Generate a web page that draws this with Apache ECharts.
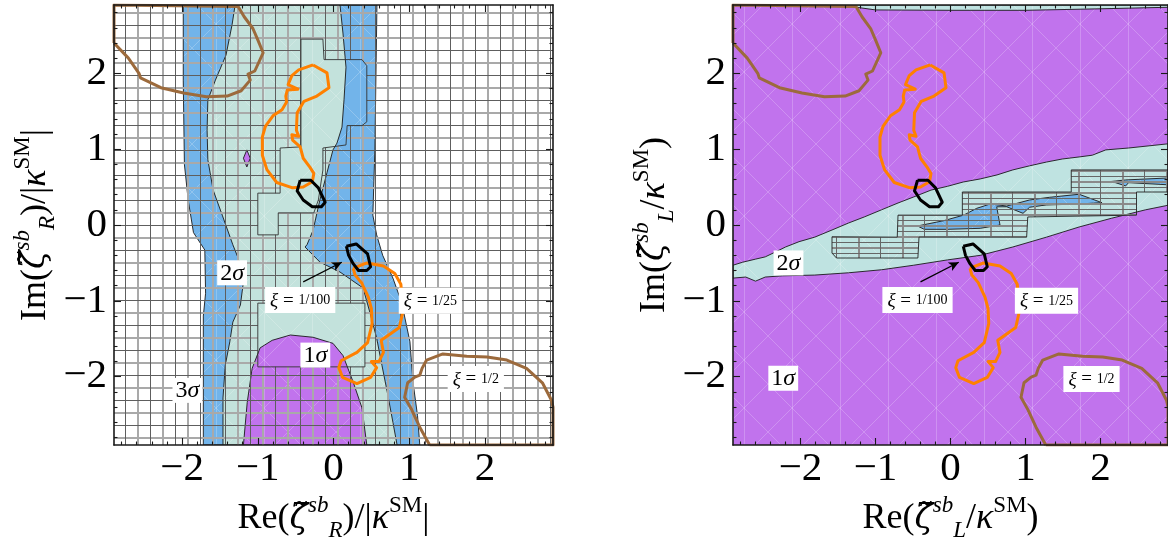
<!DOCTYPE html>
<html>
<head>
<meta charset="utf-8">
<script src="https://cdn.jsdelivr.net/npm/echarts@6/dist/echarts.min.js"></script>
<style>
html, body { margin: 0; background: #fff; }
#main { width: 1168px; height: 552px; }
</style>
</head>
<body>
<div id="main"></div>
<script>
var FONT = '"Liberation Serif", "DejaVu Serif", serif';

// axes
var axisMin = -2.9, axisMax = 2.9;
var tickValues = [-2, -1, 0, 1, 2];

// ---- left panel (zeta_R): confidence regions ----
var r3sigLeft = [[-1.985, 2.9], [-1.985, 1.9], [-1.97, 0.8], [-1.92, 0.33], [-1.85, -0.1], [-1.70, -0.33], [-1.69, -0.9], [-1.72, -1.2], [-1.72, -2.9]];
var r3sigRight = [[1.14, -2.9], [1.11, -2.51], [1.05, -2.07], [1.01, -1.54], [0.90, -1.02], [0.785, -0.70], [0.65, -0.40], [0.57, -0.13], [0.52, 0.13], [0.547, 1.0], [0.574, 2.9]];
var r2sigLeft = [[-1.30, 2.9], [-1.34, 2.64], [-1.42, 2.24], [-1.56, 1.91], [-1.66, 1.65], [-1.67, 1.25], [-1.66, 0.86], [-1.59, 0.46], [-1.47, 0.13], [-1.33, -0.26], [-1.26, -0.435], [-1.19, -0.75], [-1.23, -1.055], [-1.33, -1.28], [-1.37, -1.54], [-1.43, -1.85], [-1.46, -2.28], [-1.46, -2.9]];
var r2sigRight = [[0.84, -2.9], [0.785, -2.6], [0.71, -2.2], [0.64, -1.85], [0.57, -1.49], [0.48, -1.15], [0.39, -0.83], [0.086, -0.62], [-0.178, -0.49], [-0.376, -0.29], [-0.35, -0.26], [-0.27, -0.07], [-0.18, 0.33], [-0.086, 0.69], [-0.007, 0.99], [0.046, 1.08], [0.112, 1.29], [0.139, 1.65], [0.165, 2.08], [0.125, 2.53], [0.086, 2.9]];
var r1sig = [[-1.19, -2.9], [-1.14, -2.34], [-1.075, -1.89], [-0.97, -1.62], [-0.81, -1.52], [-0.57, -1.45], [-0.27, -1.48], [-0.007, -1.56], [0.125, -1.72], [0.26, -2.07], [0.376, -2.41], [0.44, -2.9]];
var r1sigSpeck = [[-1.145, 0.99], [-1.10, 0.88], [-1.145, 0.765], [-1.19, 0.88]];
// cells without the mesh hatching
var rPlainA = [[-0.43, 2.45], [-0.14, 2.45], [-0.125, 2.18], [0.376, 2.18], [0.44, 2.10], [0.44, 1.36], [0.376, 1.31], [0.18, 1.31], [0.165, 1.055], [-0.14, 1.015], [-0.14, 0.725], [-0.20, 0.33], [-0.26, 0.16], [-0.73, 0.16], [-0.73, -0.13], [-1.0, -0.13], [-1.0, 0.42], [-0.705, 0.42], [-0.705, 1.015], [-0.43, 1.03]];
var rPlainB = [[-1.0, -1.03], [0.415, -1.03], [0.415, -1.87], [-1.0, -1.87]];

// ---- right panel (zeta_L) ----
var lBand2Upper = [[-2.9, -0.53], [-2.77, -0.49], [-2.6, -0.45], [-2.47, -0.42], [-2.335, -0.356], [-2.2, -0.29], [-2.02, -0.22], [-1.81, -0.16], [-1.58, -0.066], [-1.36, 0.026], [-1.15, 0.106], [-0.92, 0.2], [-0.70, 0.29], [-0.49, 0.37], [-0.26, 0.46], [-0.04, 0.51], [0.17, 0.567], [0.396, 0.607], [0.62, 0.66], [0.83, 0.726], [1.055, 0.78], [1.28, 0.83], [1.49, 0.87], [1.715, 0.897], [1.89, 0.92], [2.07, 0.99], [2.375, 1.015], [2.9, 1.07]];
var lBand2Lower = [[2.9, 0.26], [2.6, 0.2], [2.15, 0.09], [1.715, -0.026], [1.28, -0.16], [0.83, -0.29], [0.396, -0.40], [-0.04, -0.46], [-0.49, -0.53], [-0.92, -0.59], [-1.36, -0.63], [-1.81, -0.66], [-2.24, -0.67], [-2.47, -0.686], [-2.6, -0.74], [-2.73, -0.686], [-2.9, -0.70]];
var lTopStrip = [[-1.27, 2.9], [2.9, 2.9], [2.9, 2.87], [2.0, 2.85], [1.0, 2.83], [0, 2.83], [-1.0, 2.835], [-1.25, 2.87]];
var lBlueA = [[-0.44, -0.013], [-0.09, 0.057], [0.175, 0.13], [0.35, 0.22], [0.53, 0.277], [0.75, 0.25], [1.055, 0.33], [1.32, 0.365], [1.715, 0.405], [2.02, 0.294], [1.715, 0.277], [1.275, 0.264], [1.055, 0.234], [0.967, 0.154], [0.75, 0.24], [0.616, 0.24], [0.66, 0.0], [0.396, -0.044], [-0.044, -0.057], [-0.35, -0.057]];
var lBlueB = [[2.11, 0.57], [2.335, 0.594], [2.9, 0.62], [2.9, 0.53], [2.375, 0.558], [2.335, 0.515], [2.2, 0.558]];
var lMeshed = [[-1.58, -0.155], [-1.58, -0.37], [-1.52, -0.435], [-0.435, -0.435], [-0.42, -0.16], [1.015, -0.16], [1.03, 0.106], [2.48, 0.13], [2.48, 0.435], [2.9, 0.435], [2.9, 0.726], [1.61, 0.726], [1.61, 0.435], [0.158, 0.435], [0.158, 0.13], [-0.70, 0.13], [-0.71, -0.16]];

// ---- xi contours (same in both panels) ----
var xi25A = [[-0.27, 2.11], [-0.086, 2.005], [-0.06, 1.81], [-0.22, 1.70], [-0.39, 1.63], [-0.48, 1.48], [-0.49, 1.25], [-0.46, 1.17], [-0.55, 1.19], [-0.54, 1.12], [-0.44, 1.03], [-0.40, 0.88], [-0.31, 0.76], [-0.26, 0.68], [-0.28, 0.57], [-0.40, 0.50], [-0.54, 0.49], [-0.75, 0.56], [-0.88, 0.73], [-0.94, 0.92], [-0.94, 1.16], [-0.90, 1.30], [-0.80, 1.44], [-0.68, 1.52], [-0.62, 1.62], [-0.63, 1.70], [-0.61, 1.78], [-0.47, 1.79], [-0.60, 1.85], [-0.55, 1.97], [-0.46, 2.045], [-0.27, 2.11]];
var xi25B = [[0.26, -0.57], [0.44, -0.50], [0.66, -0.54], [0.81, -0.64], [0.89, -0.78], [0.92, -1.13], [0.87, -1.35], [0.73, -1.45], [0.63, -1.52], [0.66, -1.68], [0.60, -1.80], [0.50, -1.80], [0.57, -1.88], [0.49, -2.01], [0.31, -2.09], [0.12, -2.01], [0.07, -1.88], [0.10, -1.79], [0.31, -1.68], [0.45, -1.55], [0.51, -1.30], [0.50, -1.10], [0.46, -0.95], [0.37, -0.76], [0.285, -0.66], [0.26, -0.57]];
var xi100A = [[-0.44, 0.59], [-0.30, 0.59], [-0.20, 0.49], [-0.11, 0.30], [-0.16, 0.24], [-0.28, 0.24], [-0.40, 0.33], [-0.48, 0.45], [-0.44, 0.59]];
var xi100B = [[0.17, -0.28], [0.30, -0.25], [0.45, -0.38], [0.49, -0.55], [0.44, -0.60], [0.33, -0.60], [0.26, -0.51], [0.20, -0.40], [0.17, -0.28]];
var xi2A = [[-2.9, 2.40], [-2.71, 2.2], [-2.57, 2.0], [-2.55, 1.94], [-2.28, 1.81], [-1.98, 1.74], [-1.68, 1.69], [-1.405, 1.70], [-1.22, 1.77], [-1.10, 1.91], [-1.13, 1.99], [-1.04, 2.03], [-0.93, 2.27], [-1.0, 2.44], [-1.065, 2.59], [-1.18, 2.745], [-1.26, 2.88], [-1.27, 2.9], [-2.9, 2.9], [-2.9, 2.4]];
var xi2B = [[1.27, -2.9], [1.27, -2.876], [1.14, -2.665], [1.035, -2.44], [0.94, -2.27], [0.98, -2.08], [1.075, -2.005], [1.14, -1.98], [1.17, -1.89], [1.23, -1.78], [1.445, -1.70], [1.76, -1.73], [2.03, -1.74], [2.29, -1.78], [2.55, -1.89], [2.76, -2.08], [2.88, -2.31], [2.9, -2.40], [2.9, -2.9], [1.27, -2.9]];

// ---- labels ----
var sigmaLabelsR = [[-1.93, -2.18, '3'], [-1.34, -0.63, '2'], [-0.24, -1.715, '1']];
var sigmaLabelsL = [[-2.16, -0.50, '2'], [-2.23, -2.02, '1']];
var xiLabels = [[-0.44, -0.99, '1/100'], [1.28, -1.0, '1/25'], [1.88, -2.03, '1/2']];
var arrowFrom = [-0.40, -0.75], arrowTo = [0.11, -0.49];

// ---------- helpers ----------
function texture(color) {
	var c = document.createElement('canvas');
	c.width = 48; c.height = 48;
	var g = c.getContext('2d');
	g.fillStyle = color;
	g.fillRect(0, 0, 48, 48);
	g.strokeStyle = 'rgba(255,255,255,0.22)';
	g.lineWidth = 1;
	g.beginPath();
	g.moveTo(0, 0); g.lineTo(48, 48);
	g.moveTo(48, 0); g.lineTo(0, 48);
	g.moveTo(24.5, 0); g.lineTo(24.5, 48);
	g.stroke();
	return { image: c, repeat: 'repeat' };
}

function meshPattern(w, h, lx, ly, dark, light) {
	var c = document.createElement('canvas');
	c.width = w; c.height = h;
	var g = c.getContext('2d');
	g.fillStyle = light;
	g.fillRect(lx, 0, 2, h);
	g.fillRect(0, ly, w, 2);
	g.fillStyle = dark;
	g.fillRect(0, 0, 1, h);
	g.fillRect(0, 0, w, 1);
	return { image: c, repeat: 'repeat' };
}

function signedArea(p) {
	var a = 0;
	for (var i = 0; i < p.length; i++) {
		var q = p[(i + 1) % p.length];
		a += p[i][0] * q[1] - q[0] * p[i][1];
	}
	return a / 2;
}

// outer rectangle with holes cut out through zero-width bridges
function keyhole(outer, holes) {
	var pts = outer.concat([outer[0]]);
	holes.forEach(function (h) {
		var hh = signedArea(h) < 0 ? h.slice().reverse() : h;
		pts = pts.concat(hh, [hh[0], outer[0]]);
	});
	return pts;
}

function polygon(gi, pts, style, z) {
	return {
		type: 'custom',
		xAxisIndex: gi * 4,
		yAxisIndex: gi * 4,
		data: pts,
		silent: true,
		clip: true,
		z: z,
		renderItem: function (params, api) {
			if (params.dataIndex !== 0) return;
			return {
				type: 'polygon',
				shape: { points: pts.map(function (p) { return api.coord(p); }) },
				style: style
			};
		}
	};
}

function curve(gi, pts, color, w) {
	return {
		type: 'line',
		xAxisIndex: gi * 4,
		yAxisIndex: gi * 4,
		data: pts,
		showSymbol: false,
		symbol: 'none',
		silent: true,
		clip: true,
		z: 5,
		lineStyle: { color: color, width: w, join: 'round' }
	};
}

function labelSeries(gi, items, fmt, rich, pad) {
	return {
		type: 'scatter',
		xAxisIndex: gi * 4,
		yAxisIndex: gi * 4,
		data: items,
		symbolSize: 1,
		itemStyle: { color: '#fff', opacity: 1 },
		silent: true,
		z: 6,
		label: {
			show: true,
			position: 'inside',
			opacity: 1,
			backgroundColor: '#ffffff',
			padding: pad,
			formatter: fmt,
			rich: rich
		}
	};
}

function sigmaSeries(gi, items) {
	return labelSeries(gi, items, function (p) { return '{n|' + p.data[2] + '}{s|σ}'; }, {
		n: { fontSize: 24, fontFamily: FONT, color: '#000' },
		s: { fontSize: 24, fontFamily: FONT, fontStyle: 'italic', color: '#000' }
	}, [1, 3, 0, 3]);
}

function xiSeries(gi) {
	return labelSeries(gi, xiLabels, function (p) { return '{x|ξ}{n| = }{f|' + p.data[2] + '}'; }, {
		x: { fontSize: 19, fontFamily: FONT, fontStyle: 'italic', color: '#000' },
		n: { fontSize: 19, fontFamily: FONT, color: '#000' },
		f: { fontSize: 14, fontFamily: FONT, color: '#000' }
	}, [4, 5, 3, 5]);
}

function arrowSeries(gi) {
	return {
		type: 'line',
		xAxisIndex: gi * 4,
		yAxisIndex: gi * 4,
		data: [],
		silent: true,
		z: 6,
		markLine: {
			silent: true,
			animation: false,
			symbol: ['none', 'arrow'],
			symbolSize: [7, 10],
			label: { show: false },
			lineStyle: { color: '#000', width: 1.2, type: 'solid' },
			data: [[{ coord: arrowFrom }, { coord: arrowTo }]]
		}
	};
}

var minorTicks = [];
for (var k = -14; k <= 14; k++) if (k % 5 !== 0) minorTicks.push(k / 5);

function tickFmt(v) {
	if (Math.abs(v - Math.round(v)) > 1e-6) return '';
	return String(Math.round(v)).replace('-', '\u2212');
}

var nameRich = {
	t: { fontSize: 36, fontFamily: FONT, color: '#000', lineHeight: 48 },
	i: { fontSize: 36, fontFamily: FONT, fontStyle: 'italic', color: '#000', lineHeight: 48 },
	z: { fontSize: 34, fontFamily: '"DejaVu Serif", serif', fontStyle: 'italic', color: '#000', lineHeight: 48 },
	sp: { fontSize: 23, fontFamily: FONT, fontStyle: 'italic', color: '#000', verticalAlign: 'top', lineHeight: 23 },
	su: { fontSize: 23, fontFamily: FONT, fontStyle: 'italic', color: '#000', verticalAlign: 'bottom', lineHeight: 23 },
	SM: { fontSize: 23, fontFamily: FONT, color: '#000', verticalAlign: 'top', lineHeight: 23 }
};

function axes(gi, dim, name, nameGap) {
	var first = dim === 'x' ? 'bottom' : 'left';
	var second = dim === 'x' ? 'top' : 'right';
	var line = { show: true, onZero: false, lineStyle: { color: '#1a1a1a', width: 1.6 } };
	function base(pos, major, withLabel) {
		var a = {
			type: 'value',
			gridIndex: gi,
			position: pos,
			min: axisMin,
			max: axisMax,
			z: 10,
			axisLine: major ? line : { show: false, onZero: false },
			axisTick: {
				show: true,
				inside: true,
				length: major ? 7 : 3.5,
				customValues: major ? tickValues : minorTicks,
				lineStyle: { color: '#1a1a1a', width: 1.1 }
			},
			axisLabel: withLabel ? {
				show: true,
				customValues: tickValues,
				formatter: tickFmt,
				fontSize: 41,
				fontFamily: FONT,
				color: '#000',
				margin: dim === 'x' ? 4 : 7
			} : { show: false },
			splitLine: { show: false }
		};
		if (withLabel) {
			a.name = name;
			a.nameLocation = 'middle';
			a.nameGap = nameGap;
			a.nameTextStyle = { rich: nameRich };
		}
		return a;
	}
	return [base(first, true, true), base(first, false, false), base(second, true, false), base(second, false, false)];
}

// ---------- fills ----------
var fillBlue = texture('#72b4ea');
var fillTealR = texture('#c3e2dc');
var fillTealL = texture('#bfe3e1');
var fillPurple = texture('#c173ed');
var meshR = meshPattern(25, 25, 12, 12, '#5e5e5e', '#a9a9a9');
var meshL = meshPattern(44, 11, 22, 5, '#666666', '#8a8a8a');

function st(fill, stroke) {
	return stroke ? { fill: fill, stroke: '#1a1a1a', lineWidth: 0.9 } : { fill: fill, stroke: null };
}

var plotRect = [[-3, 3], [3, 3], [3, -3], [-3, -3]];

var series = [
	// left panel
	polygon(0, r3sigLeft.concat(r3sigRight), st(fillBlue, true), 1),
	polygon(0, r2sigLeft.concat(r2sigRight), st(fillTealR, true), 1),
	polygon(0, r1sig, st(fillPurple, true), 1),
	polygon(0, r1sigSpeck, st(fillPurple, true), 1),
	polygon(0, keyhole(plotRect, [rPlainA, rPlainB]), st(meshR, false), 2),
	polygon(0, rPlainA, { fill: null, stroke: '#333', lineWidth: 0.9 }, 3),
	polygon(0, rPlainB, { fill: null, stroke: '#333', lineWidth: 0.9 }, 3),
	curve(0, xi2A, '#9c6a3c', 3),
	curve(0, xi2B, '#9c6a3c', 3),
	curve(0, xi25A, '#ff8000', 3),
	curve(0, xi25B, '#ff8000', 3),
	curve(0, xi100A, '#000', 3),
	curve(0, xi100B, '#000', 3),
	sigmaSeries(0, sigmaLabelsR),
	xiSeries(0),
	arrowSeries(0),
	// right panel
	polygon(1, plotRect, st(fillPurple, false), 1),
	polygon(1, lTopStrip, st(fillTealL, true), 1),
	polygon(1, lBand2Upper.concat(lBand2Lower), st(fillTealL, true), 1),
	polygon(1, lBlueA, st(fillBlue, true), 1),
	polygon(1, lBlueB, st(fillBlue, true), 1),
	polygon(1, lMeshed, { fill: meshL, stroke: '#222', lineWidth: 0.9 }, 2),
	curve(1, xi2A, '#9c6a3c', 3),
	curve(1, xi2B, '#9c6a3c', 3),
	curve(1, xi25A, '#ff8000', 3),
	curve(1, xi25B, '#ff8000', 3),
	curve(1, xi100A, '#000', 3),
	curve(1, xi100B, '#000', 3),
	sigmaSeries(1, sigmaLabelsL),
	xiSeries(1),
	arrowSeries(1)
];

var nameRx = '{t|Re(}{z|ζ\u0303}{sp|sb}{su|R}{t|)/|}{i|κ}{SM|SM}{t||}';
var nameRy = '{t|Im(}{z|ζ\u0303}{sp|sb}{su|R}{t|)/|}{i|κ}{SM|SM}{t||}';
var nameLx = '{t|Re(}{z|ζ\u0303}{sp|sb}{su|L}{t|/}{i|κ}{SM|SM}{t|)}';
var nameLy = '{t|Im(}{z|ζ\u0303}{sp|sb}{su|L}{t|/}{i|κ}{SM|SM}{t|)}';

var myChart = echarts.init(document.getElementById('main'));
var option = {
	animation: false,
	backgroundColor: '#fff',
	grid: [
		{ left: 114, top: 5, width: 439, height: 440 },
		{ left: 733, top: 5, width: 440, height: 440 }
	],
	xAxis: axes(0, 'x', nameRx, 44).concat(axes(1, 'x', nameLx, 44)),
	yAxis: axes(0, 'y', nameRy, 49).concat(axes(1, 'y', nameLy, 54)),
	series: series
};
myChart.setOption(option);
</script>
</body>
</html>
